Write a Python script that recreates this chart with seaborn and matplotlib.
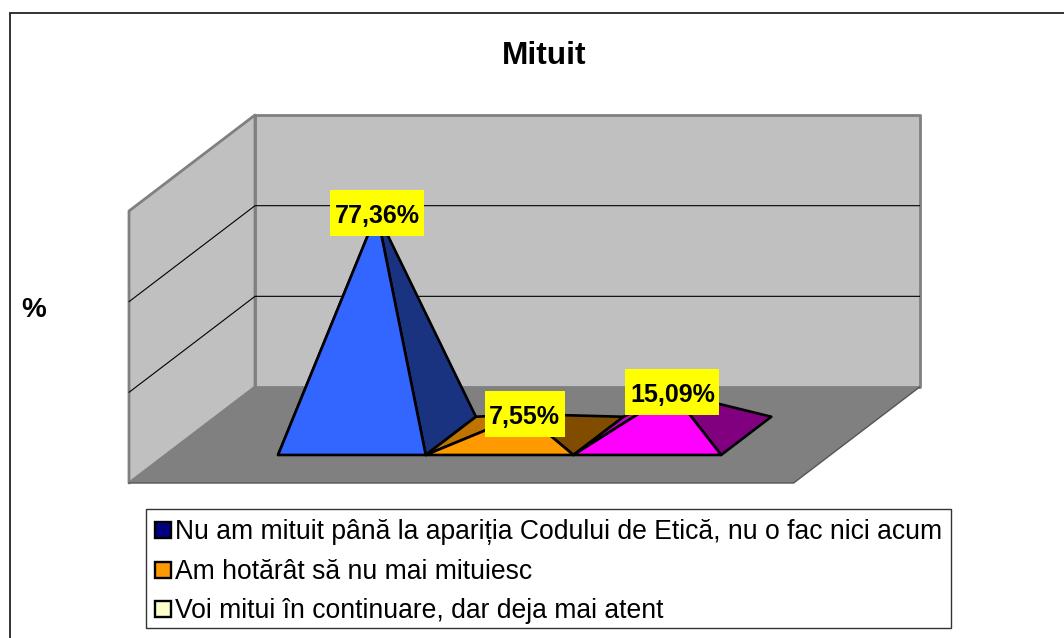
import matplotlib
matplotlib.use('Agg')

import numpy as np
import pandas as pd
import seaborn as sns
import matplotlib.pyplot as plt
from matplotlib.lines import Line2D
from matplotlib.patches import Rectangle

# data
categories = ["Nu am mituit până la apariția Codului de Etică, nu o fac nici acum",
              "Am hotărât să nu mai mituiesc",
              "Voi mitui în continuare, dar deja mai atent"]
values = [77.36, 7.55, 15.09]
value_labels = ["77,36%", "7,55%", "15,09%"]
legend_colors = ["#000080", "#FF9900", "#FFFFCC"]
front_colors = ["#3366FF", "#FF9900", "#FF00FF"]
left_colors = ["#264DBF", "#BF7300", "#BF00BF"]
right_colors = ["#1A3380", "#804D00", "#800080"]

# pixels per unit of the chart scales
W, H = 1064, 638
PX_SLOT = 147.7
PX_PCT = 2.88
X0, Y0 = 129, 483       # front left corner of the floor
AXIS_MAX = 94.44
N_DIV = 3
WALL_SLOTS = 4.5
DEPTH_X = 126 / PX_SLOT
DEPTH_Y = 96 / PX_PCT
D_FRONT, D_BACK = 0.292, 0.69
GAP = 0.76


def proj(x, v, d):
    # oblique projection, depth d goes 0 (front) to 1 (back)
    return x + d * DEPTH_X, v + d * DEPTH_Y


sns.set_theme(style="white")
plt.rcParams['font.family'] = ['Liberation Sans', 'DejaVu Sans']
plt.rcParams['text.color'] = 'black'

fig = plt.figure(figsize=(W / 100, H / 100), dpi=100)
ax = fig.add_axes([0, 0, 1, 1])
ax.set_xlim(-X0 / PX_SLOT, (W - X0) / PX_SLOT)
ax.set_ylim(-(H - Y0) / PX_PCT, Y0 / PX_PCT)
ax.axis('off')

# outer frame runs off the right and bottom of the picture
ax.add_patch(Rectangle((0.00940, -0.2), 2, 1.1790, transform=ax.transAxes,
                       fc='white', ec='#222222', lw=1.3, clip_on=True))

# walls and floor
corners = [(0, 0, 0), (WALL_SLOTS, 0, 0), (WALL_SLOTS, 0, 1), (0, 0, 1)]
pts = [proj(0, 0, 1), proj(WALL_SLOTS, 0, 1), proj(WALL_SLOTS, AXIS_MAX, 1), proj(0, AXIS_MAX, 1)]
ax.fill(*zip(*pts), fc='#C0C0C0', ec='#808080', lw=2.0, joinstyle='round', zorder=1)
pts = [proj(0, 0, 0), proj(0, 0, 1), proj(0, AXIS_MAX, 1), proj(0, AXIS_MAX, 0)]
ax.fill(*zip(*pts), fc='#C0C0C0', ec='#808080', lw=2.0, joinstyle='round', zorder=1)
# floor over the bottom edges of the walls
pts = [proj(*c) for c in corners]
ax.fill(*zip(*pts), fc='#808080', ec='none', zorder=1.5)
ax.plot(*zip(proj(0, 0, 0), proj(WALL_SLOTS, 0, 0), proj(WALL_SLOTS, 0, 1)),
        color='#555555', lw=1.0, zorder=1.6)

# gridlines on both walls
for tick in np.linspace(0, AXIS_MAX, N_DIV + 1)[1:-1]:
    line = [proj(0, tick, 0), proj(0, tick, 1), proj(WALL_SLOTS, tick, 1)]
    ax.plot(*zip(*line), color='black', lw=0.8, zorder=2)

# pyramids
apex_x, apex_y = [], []
for i, val in enumerate(values):
    left, right = GAP + i, GAP + i + 1
    fl = proj(left, 0, D_FRONT)
    fr = proj(right, 0, D_FRONT)
    bl = proj(left, 0, D_BACK)
    br = proj(right, 0, D_BACK)
    apex = proj((left + right) / 2, val, (D_FRONT + D_BACK) / 2)
    apex_x.append(apex[0])
    apex_y.append(apex[1])
    z = 3 + i
    for face, col in [((fl, bl, apex), left_colors[i]),
                      ((fr, br, apex), right_colors[i]),
                      ((fl, fr, apex), front_colors[i])]:
        ax.fill(*zip(*face), fc=col, ec='black', lw=1.9, joinstyle='round', zorder=z)

df = pd.DataFrame({"x": apex_x, "y": apex_y, "cat": categories})
sns.scatterplot(data=df, x="x", y="y", hue="cat", palette=front_colors, s=4,
                legend=False, ax=ax, zorder=6)
ax.set_xlabel("")
ax.set_ylabel("")

# value labels, yellow boxes centred on the tips
fig.canvas.draw()
rend = fig.canvas.get_renderer()
for x, y, lab in zip(apex_x, apex_y, value_labels):
    t = ax.text(x, y, lab, ha='center', va='center_baseline', fontsize=18, fontweight='bold',
                color='black', zorder=11)
    bw = t.get_window_extent(rend).width + 9
    ax.add_patch(Rectangle((x - bw / 2 / PX_SLOT, y - 23 / PX_PCT), bw / PX_SLOT, 46 / PX_PCT,
                           fc='#FFFF00', ec='none', zorder=10))

fig.text(544 / W, 1 - 56 / H, "Mituit", ha='center', va='center', fontsize=22.8, fontweight='bold')
fig.text(34 / W, 1 - 310 / H, "%", ha='center', va='center', fontsize=20, fontweight='bold')

# legend, its box drawn apart so the rows can sit low in it as in the original
ax.add_patch(Rectangle((146 / W, 1 - 628 / H), 805 / W, 119 / H, transform=fig.transFigure,
                       fc='white', ec='#333333', lw=1.0, zorder=11.5))
handles = [Line2D([], [], ls='none', marker='s', ms=12, mfc=c, mec='black', mew=1.7)
           for c in legend_colors]
leg = ax.legend(handles, categories, loc='lower left', bbox_to_anchor=(144 / W, 1 - 634 / H),
                bbox_transform=fig.transFigure, fontsize=19.1, frameon=False,
                borderaxespad=0, borderpad=0.36,
                labelspacing=0.51, handlelength=0.68, handletextpad=0.13)
leg.set_zorder(12)

fig.savefig("out.png", dpi=100)
plt.close(fig)
